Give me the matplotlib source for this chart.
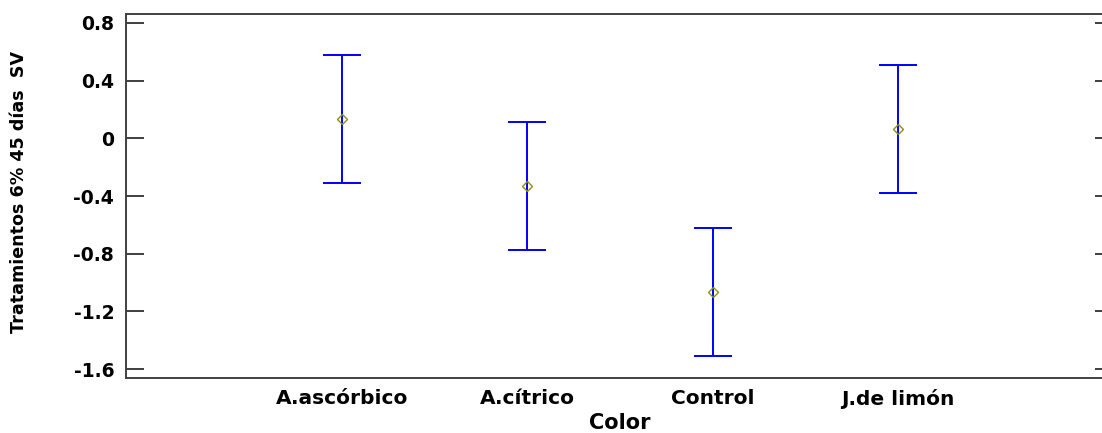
import matplotlib
matplotlib.use("Agg")
import matplotlib.pyplot as plt

categories = ["A.ascórbico", "A.cítrico", "Control", "J.de limón"]
means = [0.132, -0.333, -1.067, 0.062]
half_widths = [0.443, 0.443, 0.443, 0.443]
yticks = [0.8, 0.4, 0, -0.4, -0.8, -1.2, -1.6]
ytick_labels = ["0.8", "0.4", "0", "-0.4", "-0.8", "-1.2", "-1.6"]

plt.rcParams['font.family'] = ['DejaVu Sans']

fig = plt.figure(figsize=(11.02, 4.33), dpi=100)
ax = fig.add_axes([126/1102, 1-378/433, (1113-126)/1102, (378-14)/433])

xs = list(range(1, len(categories) + 1))
ax.errorbar(xs, means, yerr=half_widths, fmt='none', ecolor='#0000ff',
            elinewidth=1.4, capsize=13.5, capthick=1.4)
ax.plot(xs, means, linestyle='none', marker='D', markersize=5,
        markerfacecolor='none', markeredgecolor='#8f8f1f', markeredgewidth=1.0)

ax.set_xlim(-0.166, 5.161)
ax.set_ylim(-1.662, 0.862)
ax.set_yticks(yticks)
ax.set_yticklabels(ytick_labels, fontsize=13.5, fontweight='bold')
ax.set_xticks(xs)
ax.set_xticklabels(categories, fontsize=14.5, fontweight='bold')

ax.tick_params(axis='y', direction='in', length=13, width=1.3, color='#303030',
               right=True, pad=8.5)
ax.tick_params(axis='x', length=0, pad=8)

for s in ax.spines.values():
    s.set_color('#404040')
    s.set_linewidth(1.4)

ax.set_xlabel("Color", fontsize=15, fontweight='bold')
ax.xaxis.set_label_coords(0.5, -0.095)
ax.set_ylabel("Tratamientos 6% 45 días  SV", fontsize=12.6, fontweight='bold')
ax.yaxis.set_label_coords(-0.099, 0.51)

fig.savefig("out.png", dpi=100)
